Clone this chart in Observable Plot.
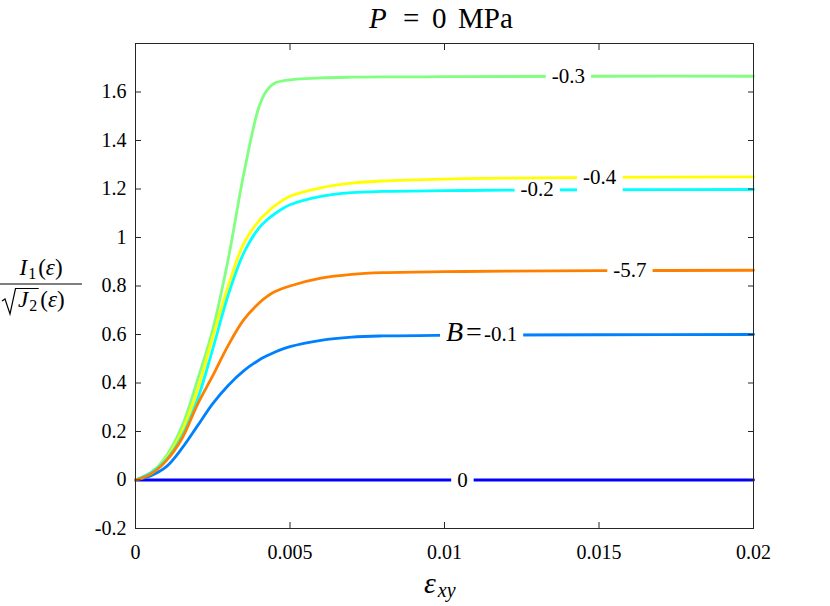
<!DOCTYPE html>
<html><head><meta charset="utf-8">
<script src="https://cdn.jsdelivr.net/npm/d3@7"></script>
<script src="https://cdn.jsdelivr.net/npm/@observablehq/plot@0.6"></script>
<style>
body{margin:0;background:#fff;} svg{display:block;}
</style>
</head><body><div id="chart"></div>
<script>
// shared strain grid (x)
const strain = [0, 0.0005, 0.001, 0.0015, 0.002, 0.0025, 0.003, 0.0035, 0.004, 0.00425, 0.0045, 0.005, 0.006, 0.007, 0.008, 0.01, 0.012, 0.015, 0.02];
// I1/sqrt(J2) per B value
const ratioB0    = [0, 0, 0, 0, 0, 0, 0, 0, 0, 0, 0, 0, 0, 0, 0, 0, 0, 0, 0];
const ratioBm01  = [0, 0.018, 0.055, 0.13, 0.222, 0.315, 0.39, 0.45, 0.495, 0.512, 0.527, 0.55, 0.576, 0.589, 0.594, 0.597, 0.598, 0.599, 0.6];
const ratioBm03  = [0, 0.03, 0.1, 0.22, 0.41, 0.62, 0.91, 1.26, 1.54, 1.607, 1.636, 1.65, 1.658, 1.661, 1.662, 1.663, 1.664, 1.665, 1.665];
const ratioBm04  = [0, 0.03, 0.09, 0.2, 0.37, 0.59, 0.80, 0.975, 1.07, 1.102, 1.13, 1.17, 1.205, 1.224, 1.233, 1.241, 1.245, 1.248, 1.25];
const ratioBm02  = [0, 0.03, 0.085, 0.18, 0.33, 0.54, 0.763, 0.935, 1.04, 1.072, 1.097, 1.135, 1.17, 1.185, 1.19, 1.193, 1.195, 1.197, 1.198];
const ratioBm57  = [0, 0.025, 0.08, 0.17, 0.31, 0.43, 0.555, 0.66, 0.73, 0.756, 0.776, 0.80, 0.832, 0.848, 0.855, 0.859, 0.861, 0.863, 0.865];

const seriesB = ["0", "-0.1", "-0.3", "-0.4", "-0.2", "-5.7"];
const seriesValues = [ratioB0, ratioBm01, ratioBm03, ratioBm04, ratioBm02, ratioBm57];
const seriesColor = ["#0000ff", "#0080ff", "#80ff80", "#ffff00", "#00ffff", "#ff8000"];

// inline contour-style labels
const labelText = ["0", "B=-0.1", "-5.7", "-0.2", "-0.4", "-0.3"];
const labelX = [0.01058, 0.0112, 0.0160, 0.0130, 0.01502, 0.01401];
const labelY = [0, 0.6, 0.865, 1.198, 1.25, 1.665];

const xTicks = [0, 0.005, 0.01, 0.015, 0.02];
const yTicks = [-0.2, 0, 0.2, 0.4, 0.6, 0.8, 1, 1.2, 1.4, 1.6];

const rows = [];
seriesB.forEach((b, i) => strain.forEach((s, j) => rows.push({strain: s, ratio: seriesValues[i][j], B: b})));
const labels = labelText.map((t, i) => ({text: t, x: labelX[i], y: labelY[i]}));

const FONT = "'Liberation Serif', 'DejaVu Serif', serif";
const axisColor = "#262626";
const plot = Plot.plot({
  width: 830, height: 606,
  marginLeft: 135, marginRight: 77, marginTop: 43, marginBottom: 78,
  style: {fontFamily: FONT, color: "#000", background: "#fff", overflow: "visible"},
  x: {domain: [0, 0.02]},
  y: {domain: [-0.2, 1.8]},
  color: {domain: seriesB, range: seriesColor},
  marks: [
    Plot.line(rows, {x: "strain", y: "ratio", z: "B", stroke: "B", strokeWidth: 2.8, curve: "catmull-rom"}),
    Plot.text(labels, {x: "x", y: "y", text: "text", fill: "#000", fontSize: 21, textAnchor: "middle", lineAnchor: "middle", className: "clabel"}),
    Plot.frame({stroke: axisColor, strokeWidth: 1}),
    Plot.axisX({anchor: "bottom", ticks: xTicks, tickSize: 0, tickPadding: 16, tickFormat: d => String(d), fontSize: 20, label: null}),
    Plot.axisX({anchor: "bottom", ticks: xTicks, tickSize: 6, dy: -6, tickFormat: () => "", stroke: axisColor, label: null}),
    Plot.axisX({anchor: "top", ticks: xTicks, tickSize: 6, dy: 6, tickFormat: () => "", stroke: axisColor, label: null}),
    Plot.axisY({anchor: "left", ticks: yTicks, tickSize: 0, tickPadding: 9, tickFormat: d => String(d), fontSize: 20, label: null}),
    Plot.axisY({anchor: "left", ticks: yTicks, tickSize: 6, dx: 6, tickFormat: () => "", stroke: axisColor, label: null}),
    Plot.axisY({anchor: "right", ticks: yTicks, tickSize: 6, dx: -6, tickFormat: () => "", stroke: axisColor, label: null})
  ]
});
document.getElementById("chart").appendChild(plot);

const svg = d3.select(plot);

// label gaps: white boxes behind each inline label, cutting the line
svg.selectAll(".clabel text").each(function() {
  const t = d3.select(this);
  const txt = this.textContent;
  if (txt === "B=-0.1") {
    t.text(null);
    t.append("tspan").attr("font-style", "italic").attr("font-size", 28).text("B");
    t.append("tspan").attr("font-size", 28).attr("dx", 3).text("=");
    t.append("tspan").attr("dx", 2).text("-0.1");
  }
  const bb = this.getBBox();
  const cy = parseFloat(this.getAttribute("y") || 0);
  const extraDown = txt === "-0.4" ? 12 : 0;
  const r = document.createElementNS("http://www.w3.org/2000/svg", "rect");
  r.setAttribute("x", bb.x - 6);
  r.setAttribute("width", bb.width + 12);
  r.setAttribute("y", cy - 5);
  r.setAttribute("height", 10 + extraDown);
  r.setAttribute("fill", "#fff");
  r.setAttribute("stroke", "none");
  const tr = this.getAttribute("transform");
  if (tr) r.setAttribute("transform", tr);
  this.parentNode.insertBefore(r, this);
});

// title
const title = svg.append("text").attr("y", 28).attr("font-size", 29).attr("fill", "#000").attr("text-anchor", "start");
title.append("tspan").attr("x", 369).attr("font-style", "italic").text("P");
title.append("tspan").attr("x", 403).text("=");
title.append("tspan").attr("x", 432).text("0");
title.append("tspan").attr("x", 458).text("MPa");

// x label
const xl = svg.append("text").attr("fill", "#000").attr("text-anchor", "start").attr("x", 424).attr("y", 593);
xl.append("tspan").attr("font-size", 30).attr("font-style", "italic").text("ε");
xl.append("tspan").attr("dx", 2).attr("dy", 4).attr("font-size", 20).attr("font-style", "italic").text("xy");

// y label (fraction)
const num = svg.append("text").attr("fill", "#000").attr("font-size", 23).attr("text-anchor", "middle").attr("x", 41).attr("y", 275);
num.append("tspan").attr("font-style", "italic").text("I");
num.append("tspan").attr("dx", 1).attr("dy", 4).attr("font-size", 16).text("1");
num.append("tspan").attr("dx", 2).attr("dy", -4).text("(");
num.append("tspan").attr("font-style", "italic").text("ε");
num.append("tspan").text(")");
svg.append("line").attr("x1", 0).attr("x2", 82).attr("y1", 284).attr("y2", 284).attr("stroke", "#000").attr("stroke-width", 1.1);

const den = svg.append("text").attr("fill", "#000").attr("font-size", 23).attr("text-anchor", "start").attr("x", 18).attr("y", 307);
const jT = den.append("tspan").attr("font-style", "italic").text("J");
const twoT = den.append("tspan").attr("dx", 1).attr("dy", 4).attr("font-size", 16).text("2");
den.append("tspan").attr("dx", 3).attr("dy", -4).text("(");
den.append("tspan").attr("font-style", "italic").text("ε");
den.append("tspan").text(")");
const overEnd = 18 + jT.node().getComputedTextLength() + 1 + twoT.node().getComputedTextLength() + 1.5;
svg.append("path").attr("d", `M2,301 L5,299 L10,314 L15.5,288.5 L${overEnd},288.5`).attr("fill", "none").attr("stroke", "#000").attr("stroke-width", 1.2).attr("stroke-linejoin", "miter");
</script>
</body></html>
